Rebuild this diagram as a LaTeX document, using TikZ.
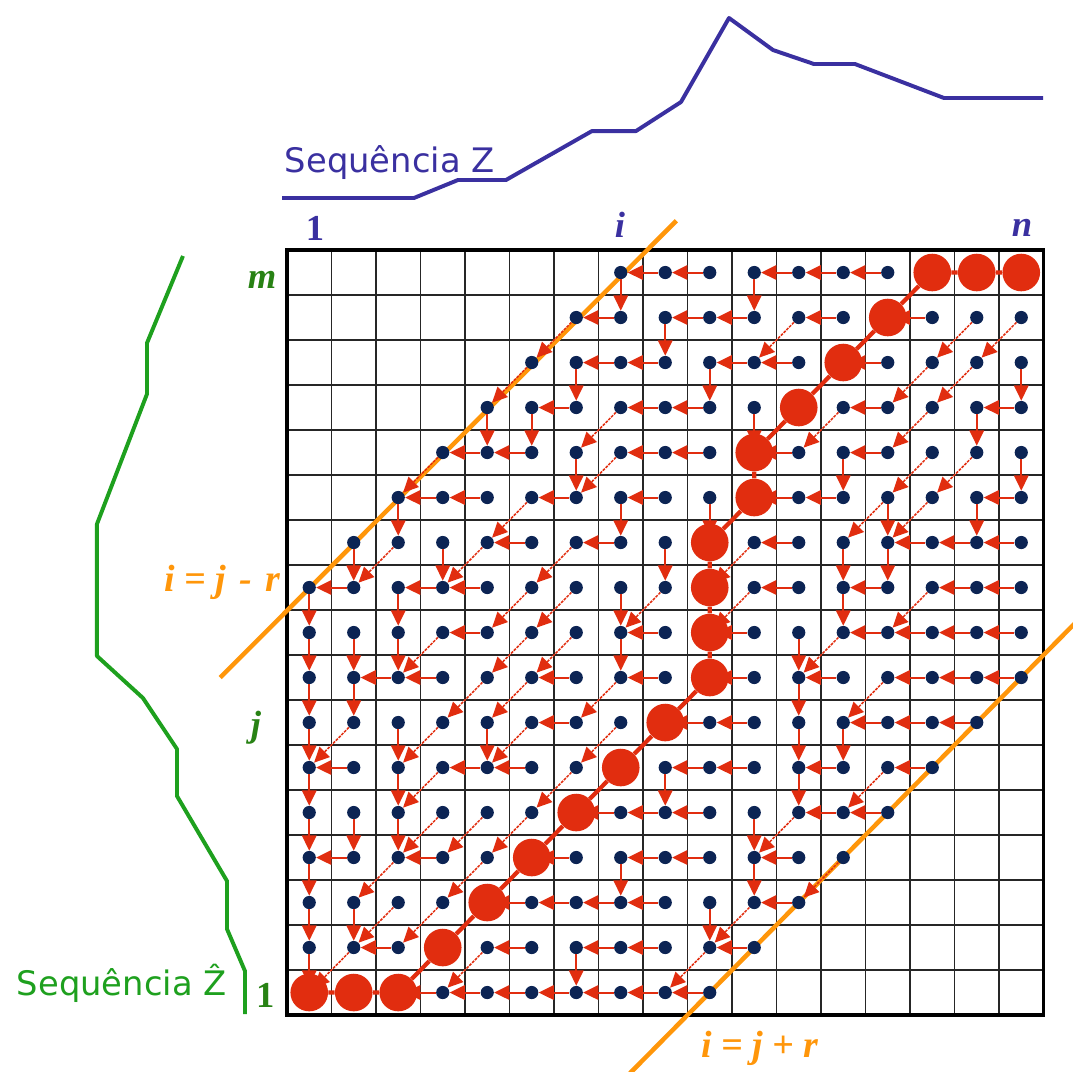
\documentclass[tikz,border=0pt]{standalone}
\usepackage{fontspec}
\setmainfont{Liberation Serif}
\newfontfamily\seqfont{DejaVu Sans}
\usetikzlibrary{arrows.meta}
\definecolor{dotblue}{RGB}{12,36,84}
\definecolor{pathred}{RGB}{225,45,15}
\definecolor{bandorange}{RGB}{255,150,10}
\definecolor{seqblue}{RGB}{58,48,160}
\definecolor{seqgreen}{RGB}{30,160,30}
\definecolor{labgreen}{RGB}{40,130,20}
\begin{document}
\begin{tikzpicture}[
    x=1.1125cm, y=1.125cm,
    dot_style/.style={circle, fill=dotblue, minimum size=3.3mm, inner sep=0pt},
    big_style/.style={circle, fill=pathred, minimum size=9.4mm, inner sep=0pt},
    arrow_style/.style={draw=pathred, line width=1.4pt, -{Triangle[length=3.8mm,width=3.6mm]}},
    diag_style/.style={arrow_style, line width=1.1pt, dash pattern=on 2pt off 0.8pt},
    path_style/.style={draw=pathred, line width=3pt},
    grid_style/.style={black!85, line width=1.4pt},
    band_style/.style={draw=bandorange, line width=3.2pt},
    curve_style/.style={line width=2.8pt, line join=round},
    label_style/.style={font=\bfseries\itshape\fontsize{26}{26}\selectfont},
    band_label/.style={text=bandorange, font=\bfseries\itshape\fontsize{27}{27}\selectfont},
    seq_style/.style={font=\seqfont\fontsize{24}{24}\selectfont}
]
\useasboundingbox (-6.449,-1.244) rectangle (17.663,22.556);
% Grelha 17x17
\foreach \k in {0,...,17} {
    \draw[grid_style] (\k,0) -- (\k,17);
    \draw[grid_style] (0,\k) -- (17,\k);
}
\draw[black, line width=2.2pt] (0,0) rectangle (17,17);
% Faixa |i-j| <= r
\draw[band_style] (-1.5,7.5) -- (8.75,17.65);
\draw[band_style] (7.7,-1.3) -- (17.7,8.7);
% Celulas dentro da faixa
\foreach \c in {1,...,17} {
    \foreach \r in {1,...,17} {
        \pgfmathtruncatemacro{\dd}{abs(\c-\r)}
        \ifnum\dd<10
            \node[dot_style] (d\c-\r) at (\c-0.5,\r-0.5) {};
        \fi
    }
}
% Setas para a esquerda
\foreach \c/\r [evaluate=\c as \cp using int(\c-1)] in {
    9/17, 10/17, 12/17, 13/17, 14/17,
    8/16, 10/16, 11/16, 13/16, 15/16,
    8/15, 9/15, 11/15, 12/15, 14/15,
    7/14, 9/14, 10/14, 14/14, 17/14,
    5/13, 6/13, 9/13, 10/13, 12/13, 14/13,
    4/12, 5/12, 7/12, 9/12, 12/12, 13/12, 17/12,
    6/11, 8/11, 12/11, 15/11, 16/11, 17/11,
    2/10, 4/10, 5/10, 12/10, 14/10, 16/10, 17/10,
    5/9, 9/9, 11/9, 14/9, 15/9, 16/9, 17/9,
    3/8, 4/8, 7/8, 9/8, 11/8, 13/8, 15/8, 16/8, 17/8,
    7/7, 10/7, 11/7, 14/7, 15/7, 16/7,
    2/6, 5/6, 6/6, 10/6, 11/6, 13/6, 15/6,
    8/5, 9/5, 10/5, 13/5, 14/5,
    2/4, 4/4, 7/4, 9/4, 10/4, 12/4,
    6/3, 7/3, 8/3, 9/3, 12/3,
    3/2, 6/2, 8/2, 9/2, 11/2,
    4/1, 5/1, 6/1, 7/1, 8/1, 9/1, 10/1} {
    \draw[arrow_style] (d\c-\r) -- (d\cp-\r);
}
% Setas para baixo
\foreach \c/\r [evaluate=\r as \rp using int(\r-1)] in {
    8/17, 11/17, 9/16, 7/15, 10/15, 17/15,
    5/14, 6/14, 11/14, 16/14, 7/13, 13/13, 17/13,
    3/12, 8/12, 10/12, 14/12, 16/12,
    2/11, 4/11, 9/11, 13/11, 14/11,
    1/10, 3/10, 8/10, 13/10,
    1/9, 2/9, 3/9, 8/9, 12/9,
    1/8, 2/8, 12/8,
    1/7, 3/7, 5/7, 12/7, 13/7,
    1/6, 3/6, 9/6, 12/6,
    1/5, 2/5, 3/5, 11/5,
    1/4, 8/4, 11/4,
    1/3, 2/3, 10/3,
    1/2, 7/2} {
    \draw[arrow_style] (d\c-\r) -- (d\c-\rp);
}
% Setas na diagonal
\foreach \c/\r [evaluate=\c as \cp using int(\c-1), evaluate=\r as \rp using int(\r-1)] in {
    7/16, 12/16, 16/16, 17/16,
    6/15, 15/15, 16/15,
    8/14, 13/14, 15/14,
    4/13, 8/13, 15/13, 16/13,
    6/12, 14/12, 15/12,
    3/11, 5/11, 7/11, 11/11,
    6/10, 7/10, 9/10, 11/10, 15/10,
    4/9, 6/9, 7/9, 13/9,
    5/8, 6/8, 8/8, 14/8,
    2/7, 4/7, 6/7, 8/7,
    4/6, 7/6, 14/6,
    4/5, 5/5, 6/5, 12/5,
    3/4, 5/4, 13/4,
    3/3, 4/3, 11/3,
    2/2, 5/2, 10/2} {
    \draw[diag_style] (d\c-\r) -- (d\cp-\rp);
}
% Caminho otimo
\foreach \c/\r in {1/1, 2/1, 3/1, 4/2, 5/3, 6/4, 7/5, 8/6, 9/7, 10/8, 10/9,
    10/10, 10/11, 11/12, 11/13, 12/14, 13/15, 14/16, 15/17, 16/17, 17/17} {
    \node[big_style] (p\c-\r) at (\c-0.5,\r-0.5) {};
}
\draw[path_style] (p1-1) -- (p2-1) -- (p3-1) -- (p4-2) -- (p5-3) -- (p6-4)
    -- (p7-5) -- (p8-6) -- (p9-7) -- (p10-8) -- (p10-9) -- (p10-10) -- (p10-11)
    -- (p11-12) -- (p11-13) -- (p12-14) -- (p13-15) -- (p14-16) -- (p15-17)
    -- (p16-17) -- (p17-17);
% Sequencias
\draw[curve_style, seqblue] (-0.112,18.156) -- (2.854,18.156) -- (3.843,18.556)
    -- (4.921,18.556) -- (6.854,19.644) -- (7.843,19.644) -- (8.854,20.289)
    -- (9.933,22.156) -- (10.921,21.444) -- (11.843,21.133) -- (12.764,21.133)
    -- (14.764,20.378) -- (16.989,20.378);
\draw[curve_style, seqgreen] (-2.337,16.867) -- (-3.146,14.933) -- (-3.146,13.8)
    -- (-4.270,10.911) -- (-4.270,7.978) -- (-3.236,7.044) -- (-2.472,5.911)
    -- (-2.472,4.867) -- (-1.348,2.978) -- (-1.348,1.911) -- (-0.944,0.978)
    -- (-0.944,0.022);
\node[seq_style, text=seqblue, anchor=base west] (seqZ) at (-0.157,18.733) {Sequência Z};
\node[seq_style, text=seqgreen, anchor=base west] (seqW) at (-6.18,0.444) {Sequência Ẑ};
% Indices
\node[font=\bfseries\fontsize{26}{26}\selectfont, text=seqblue] (top1) at (0.629,17.49) {1};
\node[label_style, text=seqblue] (topi) at (7.48,17.56) {i};
\node[label_style, text=seqblue] (topn) at (16.52,17.49) {n};
\node[label_style, text=labgreen] (sidem) at (-0.56,16.33) {m};
\node[label_style, text=labgreen] (sidej) at (-0.70,6.38) {j};
\node[font=\bfseries\fontsize{26}{26}\selectfont, text=labgreen] (side1) at (-0.49,0.44) {1};
\node[band_label] (bandup) at (-1.45,9.62) {i = j\hspace{0.35em}-\hspace{0.35em}r};
\node[band_label] (banddown) at (10.63,-0.73) {i = j + r};
\end{tikzpicture}
\end{document}
